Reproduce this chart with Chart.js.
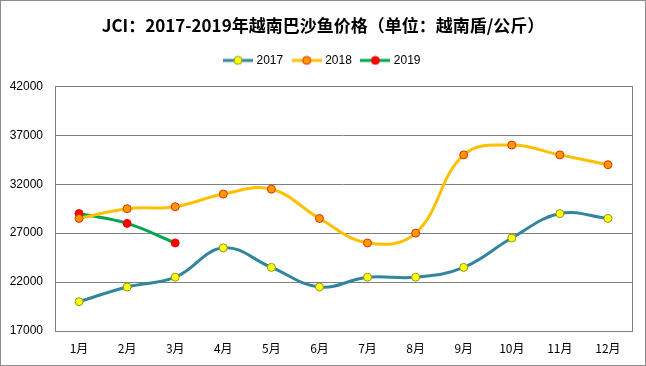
<!DOCTYPE html>
<html>
<head>
<meta charset="utf-8">
<script src="https://cdn.jsdelivr.net/npm/chart.js@4.4.1/dist/chart.umd.min.js"></script>
<style>
  html, body { margin: 0; padding: 0; background: #fff; }
  #wrap { width: 646px; height: 366px; }
</style>
</head>
<body>
<div id="wrap"><canvas id="c" width="646" height="366"></canvas></div>
<script>
// months on the x axis
var months = ['1月', '2月', '3月', '4月', '5月', '6月', '7月', '8月', '9月', '10月', '11月', '12月'];

// price per year (越南盾/公斤)
var price2017 = [20000, 21500, 22500, 25500, 23500, 21500, 22500, 22500, 23500, 26500, 29000, 28500];
var price2018 = [28500, 29500, 29700, 31000, 31500, 28500, 26000, 27000, 35000, 36000, 35000, 34000];
var price2019 = [29000, 28000, 26000];

var yMin = 17000, yMax = 42000, yStep = 5000;

var fontCJK = '"Noto Sans CJK SC", "Noto Sans", sans-serif';
var fontLatin = '"Liberation Sans", Arial, sans-serif';

// little legend icon: line with a dot in the middle
function legendIcon(lineColor, dotFill, dotBorder) {
  var cv = document.createElement('canvas');
  cv.width = 30; cv.height = 10;
  var g = cv.getContext('2d');
  g.strokeStyle = lineColor;
  g.lineWidth = 3;
  g.beginPath(); g.moveTo(0, 5); g.lineTo(30, 5); g.stroke();
  g.fillStyle = dotFill;
  g.strokeStyle = dotBorder;
  g.lineWidth = 1;
  g.beginPath(); g.arc(15, 5, 4, 0, Math.PI * 2); g.fill(); g.stroke();
  return cv;
}

var series = [
  { label: '2017', data: price2017, line: '#31859C', fill: '#FFFF00', border: '#8A9A2A' },
  { label: '2018', data: price2018, line: '#FFC000', fill: '#FF9900', border: '#E03000' },
  { label: '2019', data: price2019, line: '#00A550', fill: '#FF0000', border: '#FF0000' }
];

var datasets = series.map(function (s) {
  return {
    label: s.label,
    data: s.data,
    borderColor: s.line,
    borderWidth: 3,
    tension: 0.4,
    pointRadius: 4,
    pointBackgroundColor: s.fill,
    pointBorderColor: s.border,
    pointBorderWidth: 1,
    fill: false
  };
});

// extra room under the legend
var legendGap = {
  id: 'legendGap',
  beforeInit: function (chart) {
    var lg = chart.legend;
    if (!lg) return;
    var fit = lg.fit;
    lg.fit = function () {
      fit.apply(this, arguments);
      this.height += 10;
    };
  }
};

// frame around plot area and whole picture
var frames = {
  id: 'frames',
  afterDraw: function (chart) {
    var ctx = chart.ctx, a = chart.chartArea;
    ctx.save();
    ctx.strokeStyle = '#808080';
    ctx.lineWidth = 1;
    ctx.strokeRect(Math.round(a.left) + 0.5, Math.round(a.top) + 0.5,
      Math.round(a.right - a.left), Math.round(a.bottom - a.top));
    ctx.strokeStyle = '#8c8c8c';
    ctx.strokeRect(0.5, 0.5, chart.width - 1, chart.height - 1);
    ctx.restore();
  }
};

new Chart(document.getElementById('c'), {
  type: 'line',
  data: { labels: months, datasets: datasets },
  plugins: [legendGap, frames],
  options: {
    responsive: false,
    animation: false,
    layout: { padding: 0 },
    plugins: {
      title: {
        display: true,
        text: 'JCI：2017-2019年越南巴沙鱼价格（单位：越南盾/公斤）',
        color: '#000',
        font: { family: fontCJK, size: 17, weight: 'bold' },
        padding: { top: 15, bottom: 8 }
      },
      legend: {
        display: true,
        labels: {
          color: '#000',
          font: { family: fontLatin, size: 12 },
          usePointStyle: true,
          pointStyleWidth: 25,
          padding: 11,
          generateLabels: function (chart) {
            return series.map(function (s, i) {
              return {
                text: s.label,
                pointStyle: legendIcon(s.line, s.fill, s.border),
                fontColor: '#000',
                datasetIndex: i,
                hidden: false,
                lineWidth: 0
              };
            });
          }
        }
      },
      tooltip: { enabled: false }
    },
    scales: {
      x: {
        offset: true,
        grid: { display: false, drawTicks: false },
        border: { display: false },
        ticks: { color: '#000', font: { family: fontCJK, size: 12 }, padding: 10 },
        afterFit: function (s) { s.height = 35; }
      },
      y: {
        min: yMin,
        max: yMax,
        grid: { color: '#808080', drawTicks: false },
        border: { display: false },
        ticks: {
          stepSize: yStep,
          color: '#000',
          font: { family: fontLatin, size: 12 },
          padding: 12,
          callback: function (v) { return String(v); }
        },
        afterFit: function (s) { s.width = 55; }
      },
      // empty strip on the right, keeps the legend centred on the whole picture
      yRight: {
        position: 'right',
        min: yMin,
        max: yMax,
        grid: { display: false, drawTicks: false },
        border: { display: false },
        ticks: { display: false },
        afterFit: function (s) { s.width = 14; }
      }
    }
  }
});
</script>
</body>
</html>
